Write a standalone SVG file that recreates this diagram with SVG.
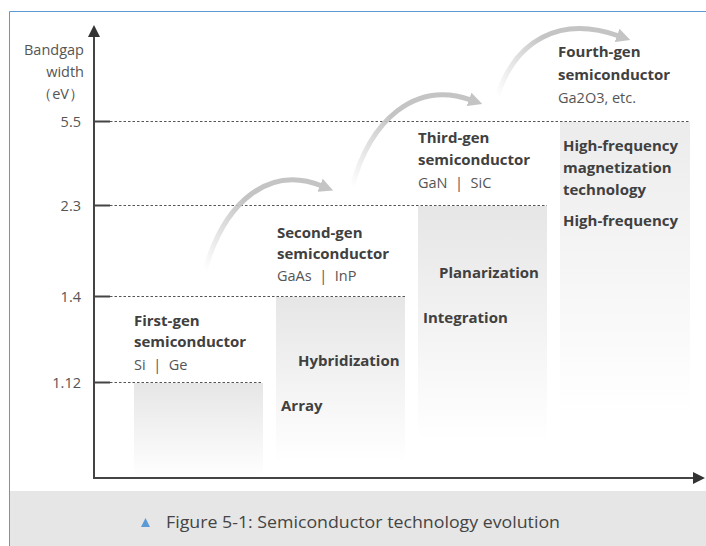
<svg xmlns="http://www.w3.org/2000/svg" width="706" height="546" viewBox="0 0 706 546">
<style>
text{font-family:"Open Sans","Noto Sans","Liberation Sans",sans-serif;}
.ax{font-size:14.5px;fill:#555;}
.b{font-size:15px;font-weight:bold;fill:#404040;}
.r{font-size:14.5px;fill:#555;}
.dash{stroke:#555;stroke-width:1;stroke-dasharray:2.5,2;fill:none;}
.tick{stroke:#444;stroke-width:2;}
.arc{fill:none;stroke-width:5;}
</style>
<defs>
<linearGradient id="col" x1="0" y1="0" x2="0" y2="1">
<stop offset="0" stop-color="#e6e6e6"/>
<stop offset="1" stop-color="#ffffff"/>
</linearGradient>
<linearGradient id="col4" x1="0" y1="0" x2="0" y2="1">
<stop offset="0" stop-color="#ececec"/>
<stop offset="1" stop-color="#ffffff"/>
</linearGradient>
<linearGradient id="a1" gradientUnits="userSpaceOnUse" x1="205" y1="270" x2="322" y2="186">
<stop offset="0" stop-color="#c4c4c4" stop-opacity="0"/>
<stop offset="0.5" stop-color="#c4c4c4"/>
<stop offset="1" stop-color="#c4c4c4"/>
</linearGradient>
<linearGradient id="a2" gradientUnits="userSpaceOnUse" x1="352" y1="187" x2="471" y2="100">
<stop offset="0" stop-color="#c4c4c4" stop-opacity="0"/>
<stop offset="0.5" stop-color="#c4c4c4"/>
<stop offset="1" stop-color="#c4c4c4"/>
</linearGradient>
<linearGradient id="a3" gradientUnits="userSpaceOnUse" x1="497" y1="97" x2="619" y2="36">
<stop offset="0" stop-color="#c4c4c4" stop-opacity="0"/>
<stop offset="0.5" stop-color="#c4c4c4"/>
<stop offset="1" stop-color="#c4c4c4"/>
</linearGradient>
<marker id="ah" viewBox="0 0 14 14" refX="2" refY="7" markerWidth="14" markerHeight="14" markerUnits="userSpaceOnUse" orient="auto">
<path d="M0,0 L14,7 L0,14 z" fill="#c4c4c4"/>
</marker>
<marker id="axh" viewBox="0 0 12 12" refX="1" refY="6" markerWidth="12" markerHeight="12" markerUnits="userSpaceOnUse" orient="auto">
<path d="M0,0 L12,6 L0,12 z" fill="#333"/>
</marker>
</defs>
<rect width="706" height="546" fill="#ffffff"/>
<rect x="10" y="491" width="696" height="55" fill="#e6e6e6"/>
<path d="M9.5,546 V11.5 H706" fill="none" stroke="#5b9bd5" stroke-width="1"/>

<g id="columns">
<rect x="134" y="383" width="129" height="95" fill="url(#col)"/>
<rect x="276" y="297" width="129" height="165" fill="url(#col)"/>
<rect x="418" y="206" width="129" height="235" fill="url(#col)"/>
<rect x="560" y="122" width="130" height="292" fill="url(#col4)"/>
</g>

<g id="grid">
<line class="dash" x1="110" y1="121.5" x2="690" y2="121.5"/>
<line class="dash" x1="110" y1="205.5" x2="547" y2="205.5"/>
<line class="dash" x1="110" y1="296.5" x2="405" y2="296.5"/>
<line class="dash" x1="110" y1="382.5" x2="263" y2="382.5"/>
<line class="tick" x1="94" y1="121.5" x2="110" y2="121.5"/>
<line class="tick" x1="94" y1="205.5" x2="110" y2="205.5"/>
<line class="tick" x1="94" y1="296.5" x2="110" y2="296.5"/>
<line class="tick" x1="94" y1="382.5" x2="110" y2="382.5"/>
</g>

<g id="axes">
<line x1="94" y1="478" x2="94" y2="36" stroke="#444" stroke-width="2" marker-end="url(#axh)"/>
<line x1="93" y1="478" x2="694" y2="478" stroke="#444" stroke-width="2" marker-end="url(#axh)"/>
<text class="ax" x="84" y="55" text-anchor="end">Bandgap</text>
<text class="ax" x="84" y="77" text-anchor="end">width</text>
<text class="ax" x="84" y="99" text-anchor="end">（eV）</text>
<text class="ax" x="81" y="127" text-anchor="end">5.5</text>
<text class="ax" x="81" y="211" text-anchor="end">2.3</text>
<text class="ax" x="81" y="302" text-anchor="end">1.4</text>
<text class="ax" x="81" y="388" text-anchor="end">1.12</text>
</g>

<g id="connectors">
<path class="arc" d="M205,270 C225,200 270,165 322,186" stroke="url(#a1)" marker-end="url(#ah)"/>
<path class="arc" d="M352,187 C370,120 415,80 471,100" stroke="url(#a2)" marker-end="url(#ah)"/>
<path class="arc" d="M497,97 C515,40 560,15 619,36" stroke="url(#a3)" marker-end="url(#ah)"/>
</g>

<g id="gen1">
<text class="b" x="134" y="326">First-gen</text>
<text class="b" x="134" y="347">semiconductor</text>
<text class="r" x="134" y="370">Si&#160;&#160;|&#160;&#160;Ge</text>
</g>
<g id="gen2">
<text class="b" x="277" y="238">Second-gen</text>
<text class="b" x="277" y="259">semiconductor</text>
<text class="r" x="277" y="281">GaAs&#160;&#160;|&#160;&#160;InP</text>
<text class="b" x="298" y="366">Hybridization</text>
<text class="b" x="281" y="411">Array</text>
</g>
<g id="gen3">
<text class="b" x="418" y="143">Third-gen</text>
<text class="b" x="418" y="165">semiconductor</text>
<text class="r" x="418" y="188">GaN&#160;&#160;|&#160;&#160;SiC</text>
<text class="b" x="439" y="278">Planarization</text>
<text class="b" x="423" y="323">Integration</text>
</g>
<g id="gen4">
<text class="b" x="558" y="57">Fourth-gen</text>
<text class="b" x="558" y="80">semiconductor</text>
<text class="r" x="558" y="103">Ga2O3, etc.</text>
<text class="b" x="563" y="151">High-frequency</text>
<text class="b" x="563" y="173">magnetization</text>
<text class="b" x="563" y="195">technology</text>
<text class="b" x="563" y="226">High-frequency</text>
</g>

<g id="caption">
<path d="M141,527 L145.5,518 L150,527 z" fill="#5b9bd5"/>
<text x="166" y="528" font-size="16" fill="#444" textLength="394" lengthAdjust="spacingAndGlyphs">Figure 5-1: Semiconductor technology evolution</text>
</g>
</svg>
